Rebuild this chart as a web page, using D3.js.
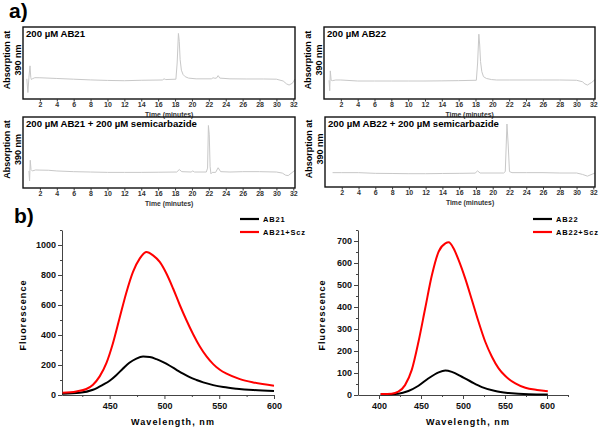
<!DOCTYPE html>
<html><head><meta charset="utf-8">
<script src="https://cdn.jsdelivr.net/npm/d3@7/dist/d3.min.js"></script>
<style>
body{margin:0;background:#fff}
svg{display:block}
text{font-family:"Liberation Sans",Arial,sans-serif}
</style>
</head><body>
<svg id="c" width="600" height="428"></svg>
<script>
// ---------- DATA ----------
const timeTicks = [2,4,6,8,10,12,14,16,18,20,22,24,26,28,30,32];
const panelTitles = ["200 µM AB21","200 µM AB22","200 µM AB21 + 200 µM semicarbazide","200 µM AB22 + 200 µM semicarbazide"];
// chromatograms: [time (min), absorbance (relative, 0-100 of frame)]
const traceAB21 = [[0.45,28],[0.58,9],[0.7,30],[0.83,46],[0.92,30],[1.0,27],[1.1,28],[1.4,29.6],[2,29.5],[4,28.5],[6,27.5],[8,26.5],[10,25.8],[12,25.4],[14,26],[16.5,26.4],[16.7,28],[16.9,27],[18.1,27.5],[18.25,50],[18.4,91],[18.5,80],[18.6,55],[18.75,40],[18.95,34],[19.2,31],[19.6,29],[20.5,28],[22.3,28],[22.5,29.5],[22.7,28.8],[22.9,29],[23.1,32.5],[23.3,29],[24.5,28],[26.5,27.8],[28.5,27.8],[30,27.5],[30.8,25],[31.2,21],[31.5,19.4],[31.9,22],[32.2,27.8]];
const traceAB22 = [[0.6,26],[0.68,11.5],[0.75,39],[0.85,26],[1.0,25.5],[1.4,26.4],[2,26.4],[4,25],[6,25],[8,25],[10,25],[12,25],[14,25.2],[16,25.5],[18.1,26],[18.25,50],[18.4,90],[18.5,75],[18.6,52],[18.75,38],[18.95,31],[19.3,28.5],[19.9,27],[20.5,26.4],[22,26.4],[24,26.4],[26,26.4],[28,26.4],[30,26],[30.7,24],[31.0,21],[31.3,19.4],[31.8,23],[32.2,27]];
const traceAB21Scz = [[0.7,24],[0.78,10],[0.86,39],[0.95,26],[1.1,24],[1.5,25.4],[2,25.2],[3,25],[4,24],[6,23],[8,22.5],[10,22],[12,22],[14,22],[16,22.2],[18.2,22.5],[18.5,26],[18.8,23],[19.9,22.5],[20.1,24],[20.3,22.5],[21.7,22.5],[21.85,28],[21.95,88],[22.05,75],[22.15,30],[22.25,20],[22.4,22],[22.8,22],[23.1,28.5],[23.4,23],[24.5,22.5],[26,23],[28,23],[30,22.5],[30.7,21],[31.1,18],[31.4,17.5],[32.2,25]];
const traceAB22Scz = [[0.9,20.5],[2,20.5],[4,20.5],[6,19.5],[8,19.3],[10,19],[12,19],[14,19.3],[16,19.5],[17.9,19.8],[18.2,23],[18.5,20],[21.3,20],[21.5,22],[21.7,90],[21.85,60],[22.0,22],[22.3,20.5],[24,20.5],[26,20.5],[28,20],[30,20],[30.7,18],[31.3,15.5],[32.2,20]];

// fluorescence spectra: [wavelength nm, fluorescence]
const ab21 = [[407,9],[422.6,15],[434.8,35],[444,69],[450,95],[456,132],[462,175],[468,215],[474.4,243],[480.5,256],[486.6,253],[492.7,239],[498.8,219],[504.9,195],[511,168],[517,142],[523,119],[529.3,100],[535.4,84],[544.5,66],[553.7,53],[565.9,42],[581,33],[600,27]];
const ab21Scz = [[407,15],[419.5,24],[428.7,40],[434.8,69],[440.9,124],[447,212],[453,345],[459,511],[465,677],[471.3,821],[477.4,909],[483.5,953],[489.6,931],[495.7,887],[501.8,810],[507.9,710],[514,600],[520,500],[526.2,405],[532.3,323],[538.4,257],[544.5,206],[550.6,168],[556.7,142],[568.9,106],[581,84],[600,62]];
const ab22 = [[402,3],[423,6],[435,18],[447,42],[459,76],[471,103],[479,111],[486.7,105],[498.6,83],[510.6,58],[522.5,36],[538.4,18],[554.3,9],[578.2,3],[601,2]];
const ab22Scz = [[402,5],[415,6],[423,15],[431,45],[439,114],[447,242],[455,394],[463,545],[471,652],[479,689],[483,694],[488.7,667],[494.7,614],[502.6,530],[510.6,432],[518.5,333],[526.5,242],[534.4,174],[542.4,121],[550.4,86],[562.3,53],[574.2,33],[588.1,23],[601,17]];
const xTicksLeft = [450,500,550,600];
const yTicksLeft = [0,200,400,600,800,1000];
const xTicksRight = [400,450,500,550,600];
const yTicksRight = [0,100,200,300,400,500,600,700];
const legendLeft = ["AB21","AB21+Scz"];
const legendRight = ["AB22","AB22+Scz"];
const seriesColors = ["#000000","#ff0000"];

// ---------- DRAW ----------
const svg = d3.select("#c");

svg.append("text").attr("x",9).attr("y",18).attr("font-size",21).attr("font-weight","bold").text("a)");
svg.append("text").attr("x",14).attr("y",223).attr("font-size",21).attr("font-weight","bold").text("b)");

function chromPanel(box, trace, title){
  const [x0,x1,y0,y1] = box;
  const g = svg.append("g");
  const x = d3.scaleLinear().domain([0,32.2]).range([x0,x1]);
  const y = d3.scaleLinear().domain([0,100]).range([y1,y0]);
  g.append("path").datum(trace)
    .attr("d", d3.line().x(d=>x(d[0])).y(d=>y(d[1])))
    .attr("fill","none").attr("stroke","#c8c8c8").attr("stroke-width",1);
  g.append("rect").attr("x",x0).attr("y",y0).attr("width",x1-x0).attr("height",y1-y0)
    .attr("fill","none").attr("stroke","#111").attr("stroke-width",1.4);
  const ax = g.append("g").attr("transform",`translate(0,${y1})`)
    .call(d3.axisBottom(x).tickValues(timeTicks).tickSize(2.5).tickPadding(1).tickFormat(d3.format("d")));
  ax.select(".domain").remove();
  ax.selectAll("text").attr("font-size",7).attr("font-weight","bold").attr("fill","#333");
  ax.selectAll("line").attr("stroke","#333");
  g.append("text").attr("x",x(17.3)).attr("y",y1+17.5).attr("text-anchor","middle")
    .attr("font-size",6.8).attr("font-weight","bold").attr("fill","#333").text("Time (minutes)");
  g.append("text").attr("x",x0+3).attr("y",y0+10).attr("font-size",9.6).attr("font-weight","bold").text(title);
  const cy = (y0+y1)/2 - 3;
  const lx = x0 - 13;
  g.append("text").attr("transform",`translate(${lx},${cy}) rotate(-90)`).attr("text-anchor","middle")
    .attr("font-size",9).attr("font-weight","bold").text("Absorption at");
  g.append("text").attr("transform",`translate(${lx+10.5},${cy}) rotate(-90)`).attr("text-anchor","middle")
    .attr("font-size",9).attr("font-weight","bold").text("390 nm");
}
chromPanel([23,295,27,99], traceAB21, panelTitles[0]);
chromPanel([324,595,27,99], traceAB22, panelTitles[1]);
chromPanel([23,295,117,188], traceAB21Scz, panelTitles[2]);
chromPanel([325,595,117,187], traceAB22Scz, panelTitles[3]);

function fluorPanel(opt){
  const g = svg.append("g");
  const x = d3.scaleLinear().domain(opt.xd).range(opt.xr);
  const y = d3.scaleLinear().domain(opt.yd).range([395,230]);
  const axCol = "#444";
  g.append("g").attr("transform","translate(0,395)")
    .call(d3.axisBottom(x).tickValues(opt.xt).tickSize(4).tickPadding(4).tickSizeOuter(0).tickFormat(d3.format("d")));
  g.append("g").attr("transform","translate(0,395)")
    .call(d3.axisBottom(x).tickValues(opt.xminor).tickSize(2).tickFormat("")).select(".domain").remove();
  g.append("g").attr("transform",`translate(${opt.xr[0]},0)`)
    .call(d3.axisLeft(y).tickValues(opt.yt).tickSize(4).tickPadding(2).tickSizeOuter(0).tickFormat(d3.format("d")));
  g.append("g").attr("transform",`translate(${opt.xr[0]},0)`)
    .call(d3.axisLeft(y).tickValues(opt.yminor).tickSize(2).tickFormat("")).select(".domain").remove();
  g.selectAll(".domain, line").attr("stroke",axCol);
  g.selectAll(".tick text").attr("font-size",9).attr("font-weight","bold").attr("fill","#111");
  const line = d3.line().x(d=>x(d[0])).y(d=>y(d[1])).curve(d3.curveMonotoneX);
  opt.series.forEach((s,i)=>{
    g.append("path").datum(s).attr("d",line).attr("fill","none")
      .attr("stroke",seriesColors[i]).attr("stroke-width",2);
  });
  g.append("text").attr("x",(opt.xr[0]+opt.xr[1])/2+5).attr("y",425).attr("text-anchor","middle")
    .attr("font-size",9).attr("font-weight","bold").attr("letter-spacing",1.1).text("Wavelength, nm");
  g.append("text").attr("transform",`translate(${opt.ylabX},315) rotate(-90)`).attr("text-anchor","middle")
    .attr("font-size",9).attr("font-weight","bold").attr("letter-spacing",1.1).text("Fluorescence");
  opt.legend.forEach((t,i)=>{
    const ly = 219 + i*13;
    g.append("line").attr("x1",opt.lx).attr("x2",opt.lx+19).attr("y1",ly).attr("y2",ly)
      .attr("stroke",seriesColors[i]).attr("stroke-width",2.2);
    g.append("text").attr("x",opt.lx+23).attr("y",ly+3).attr("font-size",7.5).attr("font-weight","bold")
      .attr("letter-spacing",0.8).text(t);
  });
}
fluorPanel({xd:[406.5,600], xr:[62,274], yd:[0,1100], xt:xTicksLeft, xminor:[425,475,525,575],
  yt:yTicksLeft, yminor:[100,300,500,700,900,1100], series:[ab21,ab21Scz], legend:legendLeft, lx:240, ylabX:26});
fluorPanel({xd:[375,625], xr:[358,568], yd:[0,750], xt:xTicksRight, xminor:[425,475,525,575,625],
  yt:yTicksRight, yminor:[50,150,250,350,450,550,650,750], series:[ab22,ab22Scz], legend:legendRight, lx:533, ylabX:325});
</script>
</body></html>
